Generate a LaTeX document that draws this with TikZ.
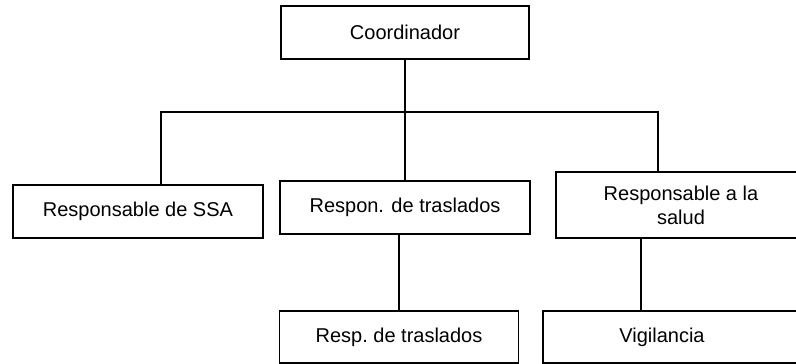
\documentclass[tikz,border=0pt]{standalone}
\usepackage{fontspec}
\setmainfont{Liberation Sans}
\usetikzlibrary{positioning, calc}
\tikzset{
    box/.style={
        draw=black,
        line width=1.2pt,
        fill=white,
        minimum width=250pt,
        minimum height=53pt,
        text=black,
        font=\fontsize{20}{24}\selectfont,
        align=center,
        inner sep=0pt
    },
    textonly/.style={
        minimum width=238pt,
        minimum height=52pt,
        text=black,
        font=\fontsize{20}{24}\selectfont,
        align=center,
        inner sep=0pt
    },
    link/.style={
        line width=1.2pt,
        black
    }
}
\begin{document}
\begin{tikzpicture}[x=1pt, y=-1pt]
        \useasboundingbox (0,0) rectangle (796,364);
        \clip (0,0) rectangle (796,364);

        % Top level
        \node[box, minimum width=248pt] (coord) at (405,32.5) {Coordinador};

        % Second level
        \node[box] (ssa) at (138,211.5) {Responsable\ de SSA};
        \node[box] (trasl) at (405,207.5) {Respon. de traslados};
        \node[box, minimum height=66pt] (salud) at (681,205) {Responsable\ a la\\salud};

        % Third level
        \node[box, minimum width=239pt, minimum height=52pt] (resp) at (399,337) {Resp.\ de traslados};
        \draw[link] (543,311) rectangle (820,363);
        \node[textonly] (vig) at (662,337) {Vigilancia};

        % Bus line
        \coordinate (busl) at (161,112);
        \coordinate (busr) at (658,112);
        \draw[link] (ssa.north -| busl) -- (busl) -- (busr) -- (busr |- salud.north);
        \draw[link] (coord.south) -- (trasl.north);

        % Lower links
        \draw[link] (trasl.south -| resp.north) -- (resp.north);
        \draw[link] ([xshift=-40pt]salud.south) -- ([xshift=-21pt]vig.north);
    \end{tikzpicture}
\end{document}
